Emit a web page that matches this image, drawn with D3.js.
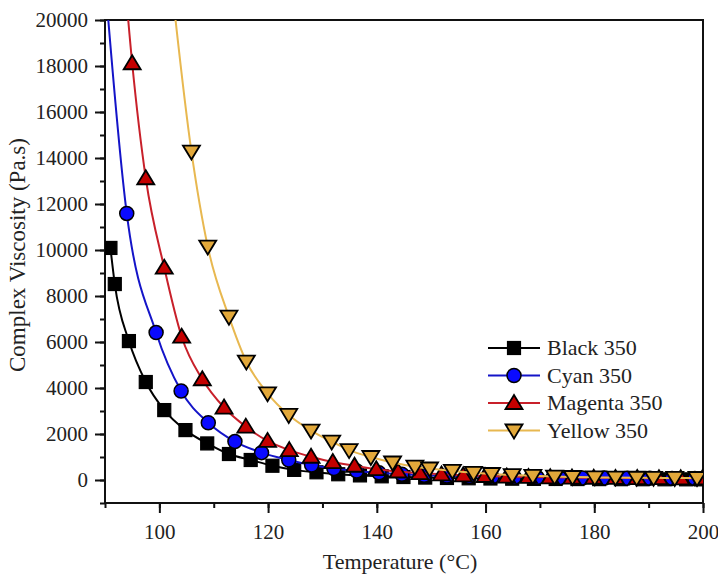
<!DOCTYPE html>
<meta charset="utf-8">
<script src="https://d3js.org/d3.v7.min.js"></script>
<style>
  body { margin: 0; background: #fff; }
  text { font-family: "Liberation Serif", "Times New Roman", serif; fill: #222; }
</style>
<div id="chart"></div>
<script>
// temperature (°C) and complex viscosity (Pa.s), points above 20000 sit off the chart
var blackT = [91.0, 91.8, 94.4, 97.5, 100.9, 104.8, 108.8, 112.8, 116.8, 120.8, 124.8, 128.9, 132.9, 136.9, 140.9, 144.9, 148.9, 152.9, 156.9, 160.9, 164.9, 168.9, 172.9, 176.9, 180.9, 184.9, 188.9, 192.9, 196.9, 199.6];
var blackV = [10090, 8520, 6040, 4260, 3040, 2170, 1590, 1130, 870, 620, 440, 335, 250, 200, 160, 130, 105, 88, 75, 65, 57, 50, 45, 41, 38, 35, 33, 31, 29, 28];

var cyanT = [89.4, 94.0, 99.4, 104.0, 109.0, 113.9, 118.8, 123.8, 128.0, 132.1, 136.3, 140.4, 144.6, 148.7, 152.9, 157.0, 161.2, 165.3, 169.5, 173.6, 177.8, 181.9, 186.0, 190.2, 194.3, 198.5];
var cyanV = [23500, 11590, 6410, 3870, 2490, 1670, 1190, 870, 650, 500, 390, 310, 250, 205, 175, 150, 130, 115, 105, 96, 88, 82, 77, 72, 68, 65];

var magentaT = [92.7, 95.0, 97.5, 100.9, 104.1, 107.9, 111.9, 115.9, 119.9, 123.9, 127.9, 131.9, 135.9, 139.9, 143.9, 147.9, 151.9, 155.9, 159.9, 163.9, 167.9, 171.9, 175.9, 179.9, 183.9, 187.9, 191.9, 195.9, 199.9];
var magentaV = [24500, 18120, 13120, 9230, 6230, 4380, 3150, 2320, 1700, 1300, 1010, 780, 620, 470, 370, 300, 245, 205, 175, 150, 132, 118, 106, 97, 90, 84, 79, 75, 72];

var yellowT = [101.6, 105.9, 108.9, 112.8, 116.0, 119.9, 123.8, 127.9, 131.7, 134.9, 138.9, 142.9, 147.0, 149.7, 153.9, 157.8, 161.1, 164.9, 168.7, 172.7, 176.0, 180.1, 183.9, 187.8, 190.9, 194.8, 198.9];
var yellowV = [23000, 14280, 10150, 7100, 5150, 3770, 2830, 2150, 1670, 1300, 1000, 760, 580, 500, 400, 310, 260, 215, 180, 150, 130, 115, 105, 98, 94, 90, 87];

var seriesNames = ["Black 350", "Cyan 350", "Magenta 350", "Yellow 350"];
var xTicks = [100, 120, 140, 160, 180, 200];
var yTicks = [0, 2000, 4000, 6000, 8000, 10000, 12000, 14000, 16000, 18000, 20000];

var series = [
  {name: seriesNames[0], t: blackT, v: blackV, line: "#000000", fill: "#000000", shape: "square"},
  {name: seriesNames[1], t: cyanT, v: cyanV, line: "#1414c8", fill: "#0a0aff", shape: "circle"},
  {name: seriesNames[2], t: magentaT, v: magentaV, line: "#c8202a", fill: "#c40000", shape: "up"},
  {name: seriesNames[3], t: yellowT, v: yellowV, line: "#e8b850", fill: "#e2a83a", shape: "down"}
];

var W = 718, H = 575;
var L = 105, R = 703, T = 20, B = 503;

var svg = d3.select("#chart").append("svg")
  .attr("width", W).attr("height", H);

var x = d3.scaleLinear().domain([90, 200]).range([L, R]);
var y = d3.scaleLinear().domain([-1000, 20000]).range([B, T]);

svg.append("defs").append("clipPath").attr("id", "plotclip")
  .append("rect").attr("x", L).attr("y", T).attr("width", R - L).attr("height", B - T);

// minor ticks
svg.append("g")
  .attr("transform", "translate(0," + B + ")")
  .call(d3.axisBottom(x).tickValues(d3.range(90, 201, 10)).tickSize(5).tickFormat(""))
  .call(g => g.select(".domain").remove())
  .call(g => g.selectAll("line").attr("stroke", "#111").attr("stroke-width", 2));
svg.append("g")
  .attr("transform", "translate(" + L + ",0)")
  .call(d3.axisLeft(y).tickValues(d3.range(-1000, 20001, 1000)).tickSize(5).tickFormat(""))
  .call(g => g.select(".domain").remove())
  .call(g => g.selectAll("line").attr("stroke", "#111").attr("stroke-width", 2));

// major ticks + labels
var xAxis = svg.append("g")
  .attr("transform", "translate(0," + B + ")")
  .call(d3.axisBottom(x).tickValues(xTicks).tickSize(10).tickPadding(11).tickSizeOuter(0));
xAxis.select(".domain").remove();
xAxis.selectAll("line").attr("stroke", "#111").attr("stroke-width", 2);
xAxis.selectAll("text").style("font-size", "21px").attr("font-family", null);

var yAxis = svg.append("g")
  .attr("transform", "translate(" + L + ",0)")
  .call(d3.axisLeft(y).tickValues(yTicks).tickSize(10).tickPadding(7).tickFormat(d3.format("d")));
yAxis.select(".domain").remove();
yAxis.selectAll("line").attr("stroke", "#111").attr("stroke-width", 2);
yAxis.selectAll("text").style("font-size", "21px").attr("font-family", null);

// frame
svg.append("rect")
  .attr("x", L).attr("y", T).attr("width", R - L).attr("height", B - T)
  .attr("fill", "none").attr("stroke", "#111").attr("stroke-width", 2);

var line = d3.line()
  .x(d => x(d[0]))
  .y(d => y(d[1]))
  .curve(d3.curveMonotoneX);

function marker(sel, shape, fill) {
  if (shape === "square") {
    sel.append("rect").attr("x", -6.5).attr("y", -6.5).attr("width", 13).attr("height", 13)
      .attr("fill", fill).attr("stroke", "#000").attr("stroke-width", 1.2);
  } else if (shape === "circle") {
    sel.append("circle").attr("r", 7)
      .attr("fill", fill).attr("stroke", "#000").attr("stroke-width", 1.5);
  } else {
    var s = shape === "up" ? 1 : -1;
    sel.append("path")
      .attr("d", "M0," + (-8 * s) + "L8.5," + (6 * s) + "L-8.5," + (6 * s) + "Z")
      .attr("fill", fill).attr("stroke", "#000").attr("stroke-width", 1.8)
      .attr("stroke-linejoin", "miter");
  }
}

var plot = svg.append("g").attr("clip-path", "url(#plotclip)");

series.forEach(function(s) {
  var pts = s.t.map((t, i) => [t, s.v[i]]);
  var g = plot.append("g");
  g.append("path")
    .datum(pts)
    .attr("fill", "none")
    .attr("stroke", s.line)
    .attr("stroke-width", 2)
    .attr("d", line);
  g.selectAll(".pt")
    .data(pts)
    .enter().append("g")
    .attr("class", "pt")
    .attr("transform", d => "translate(" + x(d[0]) + "," + y(d[1]) + ")")
    .each(function() { marker(d3.select(this), s.shape, s.fill); });
});

// legend
var legend = svg.append("g");
series.forEach(function(s, i) {
  var cy = 348 + i * 27.5;
  legend.append("line")
    .attr("x1", 488).attr("x2", 540).attr("y1", cy).attr("y2", cy)
    .attr("stroke", s.line).attr("stroke-width", 2);
  var m = legend.append("g").attr("transform", "translate(514," + cy + ")");
  marker(m, s.shape, s.fill);
  legend.append("text")
    .attr("x", 547).attr("y", cy + 7)
    .style("font-size", "22px")
    .text(s.name);
});

// axis titles
svg.append("text")
  .attr("x", 400).attr("y", 569)
  .attr("text-anchor", "middle")
  .style("font-size", "22px")
  .text("Temperature (°C)");

svg.append("text")
  .attr("transform", "translate(25,255) rotate(-90)")
  .attr("text-anchor", "middle")
  .style("font-size", "23px")
  .text("Complex Viscosity (Pa.s)");
</script>
